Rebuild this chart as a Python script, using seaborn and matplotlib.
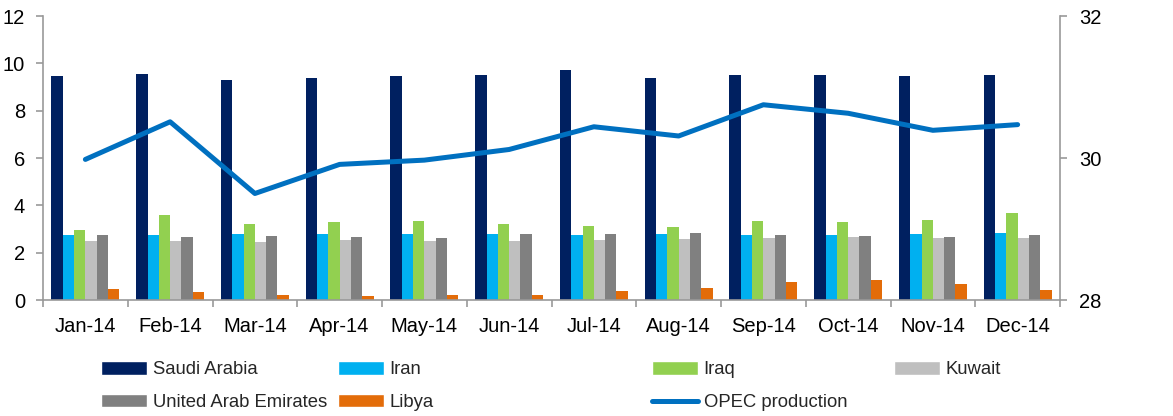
import numpy as np
import pandas as pd
import matplotlib.pyplot as plt
from matplotlib.lines import Line2D
from matplotlib.patches import Patch
from matplotlib.ticker import FixedLocator
import seaborn as sns

months = ["Jan-14", "Feb-14", "Mar-14", "Apr-14", "May-14", "Jun-14",
          "Jul-14", "Aug-14", "Sep-14", "Oct-14", "Nov-14", "Dec-14"]

saudi = [9.46, 9.56, 9.28, 9.37, 9.45, 9.49, 9.72, 9.38, 9.49, 9.52, 9.48, 9.49]
iran = [2.75, 2.75, 2.77, 2.79, 2.77, 2.77, 2.73, 2.77, 2.75, 2.73, 2.79, 2.82]
iraq = [2.96, 3.59, 3.23, 3.30, 3.34, 3.23, 3.13, 3.07, 3.34, 3.30, 3.38, 3.68]
kuwait = [2.49, 2.49, 2.46, 2.54, 2.49, 2.49, 2.52, 2.58, 2.63, 2.68, 2.63, 2.63]
uae = [2.73, 2.68, 2.72, 2.66, 2.62, 2.79, 2.79, 2.83, 2.76, 2.72, 2.68, 2.73]
libya = [0.46, 0.34, 0.21, 0.18, 0.21, 0.21, 0.38, 0.51, 0.76, 0.85, 0.68, 0.42]
opec = [29.98, 30.51, 29.50, 29.91, 29.97, 30.12, 30.44, 30.31, 30.75, 30.63, 30.39, 30.47]

countries = ["Saudi Arabia", "Iran", "Iraq", "Kuwait", "United Arab Emirates", "Libya"]
colors = ["#002060", "#00B0F0", "#92D050", "#BFBFBF", "#808080", "#E36C09"]
line_color = "#0070C0"

df = pd.DataFrame({"month": months, "Saudi Arabia": saudi, "Iran": iran, "Iraq": iraq,
                   "Kuwait": kuwait, "United Arab Emirates": uae, "Libya": libya})
long = df.melt(id_vars="month", var_name="country", value_name="value")

sns.set_style("white")
plt.rcParams["font.family"] = ["Liberation Sans", "DejaVu Sans"]

W, H = 1173, 416
fig = plt.figure(figsize=(W / 100, H / 100), dpi=100)
ax = fig.add_axes([43 / W, 1 - 300 / H, (1060 - 43) / W, (300 - 16) / H])

sns.barplot(data=long, x="month", y="value", hue="country", hue_order=countries,
            palette=colors, width=0.8, saturation=1, linewidth=0, ax=ax, legend=False)

ax2 = ax.twinx()
sns.lineplot(x=np.arange(len(months)), y=opec, color=line_color, linewidth=3.6,
             ax=ax2, solid_capstyle="round")

ax.set_ylim(0, 12)
ax.set_yticks(range(0, 13, 2))
ax2.set_ylim(28, 32)
ax2.set_yticks([28, 30, 32])
ax.set_xlim(-0.5, len(months) - 0.5)
ax.set_xlabel("")
ax.set_ylabel("")
ax2.set_ylabel("")

spine_c = "#999999"
for a in (ax, ax2):
    a.spines["top"].set_visible(False)
    for s in ["left", "right", "bottom"]:
        a.spines[s].set_color(spine_c)
        a.spines[s].set_linewidth(1.2)
ax.spines["right"].set_visible(False)
ax2.spines["left"].set_visible(False)
ax2.spines["bottom"].set_visible(False)

ax.tick_params(axis="y", left=True, length=5, width=1.2, color=spine_c, pad=8,
               labelsize=14.5, labelcolor="black")
ax2.tick_params(axis="y", right=True, length=5, width=1.2, color=spine_c, pad=9,
                labelsize=14.5, labelcolor="black")
ax.tick_params(axis="x", which="major", bottom=False, pad=9, labelsize=14.5,
               labelcolor="black")
ax.xaxis.set_minor_locator(FixedLocator(np.arange(-0.5, len(months), 1.0)))
ax.tick_params(axis="x", which="minor", bottom=True, length=5, width=1.2, color=spine_c)

bar_handles = [Patch(facecolor=c, label=n) for n, c in zip(countries, colors)]
line_handle = Line2D([0], [0], color=line_color, linewidth=3.6, label="OPEC production",
                     solid_capstyle="round")

# legend laid out as four fixed columns, filled row by row
legend_cols = [
    (101, [bar_handles[0], bar_handles[4]]),
    (338, [bar_handles[1], bar_handles[5]]),
    (652, [bar_handles[2], line_handle]),
    (894, [bar_handles[3]]),
]
for x0, hs in legend_cols:
    fig.legend(handles=hs, ncol=1, loc="upper left",
               bbox_to_anchor=(x0 / W, 1 - 361 / H), frameon=False, fontsize=13.3,
               handlelength=2.5, handleheight=0.75, handletextpad=0.3,
               labelspacing=0.85, borderpad=0, borderaxespad=0)

fig.savefig("out.png", dpi=100)
